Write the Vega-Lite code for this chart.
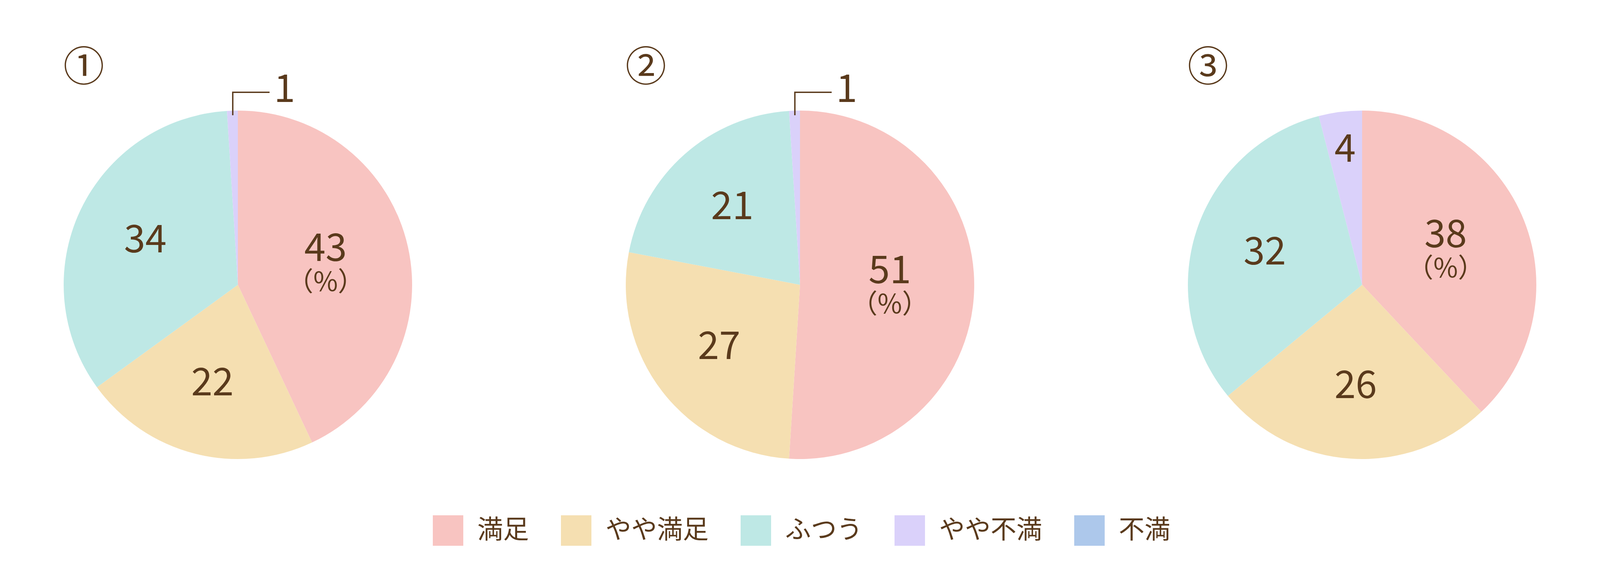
{
  "$schema": "https://vega.github.io/schema/vega-lite/v6.json",
  "padding": {"left": 162, "top": 123, "right": 5, "bottom": 5},
  "background": "white",
  "bounds": "flush",
  "data": {
    "values": [
      {"panel": "①", "category": "満足", "k": 1, "value": 43},
      {"panel": "①", "category": "やや満足", "k": 2, "value": 22},
      {"panel": "①", "category": "ふつう", "k": 3, "value": 34},
      {"panel": "①", "category": "やや不満", "k": 4, "value": 1},
      {"panel": "②", "category": "満足", "k": 1, "value": 51},
      {"panel": "②", "category": "やや満足", "k": 2, "value": 27},
      {"panel": "②", "category": "ふつう", "k": 3, "value": 21},
      {"panel": "②", "category": "やや不満", "k": 4, "value": 1},
      {"panel": "③", "category": "満足", "k": 1, "value": 38},
      {"panel": "③", "category": "やや満足", "k": 2, "value": 26},
      {"panel": "③", "category": "ふつう", "k": 3, "value": 32},
      {"panel": "③", "category": "やや不満", "k": 4, "value": 4}
    ]
  },
  "facet": {
    "column": {
      "field": "panel",
      "type": "nominal",
      "header": {
        "title": null,
        "labelAnchor": "start",
        "labelFontSize": 105,
        "labelFont": "Noto Sans CJK JP",
        "labelColor": "#5A3A1C",
        "labelPadding": 40
      }
    }
  },
  "spacing": 545,
  "spec": {
    "width": 894,
    "height": 920,
    "layer": [
      {
        "mark": {"type": "arc", "outerRadius": 446},
        "encoding": {
          "theta": {"field": "value", "type": "quantitative", "stack": true},
          "order": {"field": "k", "type": "quantitative"},
          "color": {
            "field": "category",
            "type": "nominal",
            "scale": {
              "domain": ["満足", "やや満足", "ふつう", "やや不満", "不満"],
              "range": ["#F8C4C1", "#F5DFB1", "#BEE8E5", "#DAD1FA", "#ADC8EB"]
            },
            "legend": {
              "orient": "none",
              "legendX": 946,
              "legendY": 1050,
              "direction": "horizontal",
              "title": null,
              "padding": 0,
              "symbolType": "square",
              "symbolSize": 6084,
              "symbolStrokeWidth": 0,
              "symbolOpacity": 1,
              "labelFont": "Noto Sans CJK JP",
              "labelFontSize": 66,
              "labelColor": "#5A3A1C",
              "labelOffset": 36,
              "labelLimit": 600,
              "columnPadding": 82
            }
          }
        }
      },
      {
        "mark": {"type": "text", "radius": 262, "fontSize": 98, "font": "Noto Sans CJK JP", "color": "#5A3A1C", "baseline": "middle"},
        "encoding": {
          "theta": {"field": "value", "type": "quantitative", "stack": true},
          "order": {"field": "k", "type": "quantitative"},
          "detail": {"field": "category", "type": "nominal"},
          "text": {
            "condition": {"test": "datum.value >= 10 && datum.category != '満足'", "field": "value", "type": "quantitative"},
            "value": ""
          }
        }
      },
      {
        "mark": {"type": "text", "radius": 347, "fontSize": 98, "font": "Noto Sans CJK JP", "color": "#5A3A1C", "baseline": "middle"},
        "encoding": {
          "theta": {"field": "value", "type": "quantitative", "stack": true},
          "order": {"field": "k", "type": "quantitative"},
          "detail": {"field": "category", "type": "nominal"},
          "text": {
            "condition": {"test": "datum.value > 1 && datum.value < 10", "field": "value", "type": "quantitative"},
            "value": ""
          }
        }
      },
      {
        "mark": {"type": "text", "radius": 230, "dy": -40, "fontSize": 98, "font": "Noto Sans CJK JP", "color": "#5A3A1C", "baseline": "middle"},
        "encoding": {
          "theta": {"field": "value", "type": "quantitative", "stack": true},
          "order": {"field": "k", "type": "quantitative"},
          "detail": {"field": "category", "type": "nominal"},
          "text": {
            "condition": {"test": "datum.category == '満足'", "field": "value", "type": "quantitative"},
            "value": ""
          }
        }
      },
      {
        "mark": {"type": "text", "radius": 230, "dy": 46, "fontSize": 68, "font": "Noto Sans CJK JP", "color": "#5A3A1C", "baseline": "middle"},
        "encoding": {
          "theta": {"field": "value", "type": "quantitative", "stack": true},
          "order": {"field": "k", "type": "quantitative"},
          "detail": {"field": "category", "type": "nominal"},
          "text": {
            "condition": {"test": "datum.category == '満足'", "value": "（%）"},
            "value": ""
          }
        }
      },
      {
        "mark": {"type": "text", "radius": 497, "dx": 135, "fontSize": 98, "font": "Noto Sans CJK JP", "color": "#5A3A1C", "baseline": "middle"},
        "encoding": {
          "theta": {"field": "value", "type": "quantitative", "stack": true},
          "order": {"field": "k", "type": "quantitative"},
          "detail": {"field": "category", "type": "nominal"},
          "text": {
            "condition": {"test": "datum.value == 1", "field": "value", "type": "quantitative"},
            "value": ""
          }
        }
      },
      {
        "transform": [{"filter": "datum.value == 1"}],
        "mark": {
          "type": "point",
          "shape": "M -0.029 -0.958 L -0.029 -1.088 L 0.179 -1.088",
          "size": 820836,
          "filled": false,
          "stroke": "#5A3A1C",
          "strokeWidth": 3.5,
          "opacity": 1
        },
        "encoding": {}
      }
    ]
  }
}
